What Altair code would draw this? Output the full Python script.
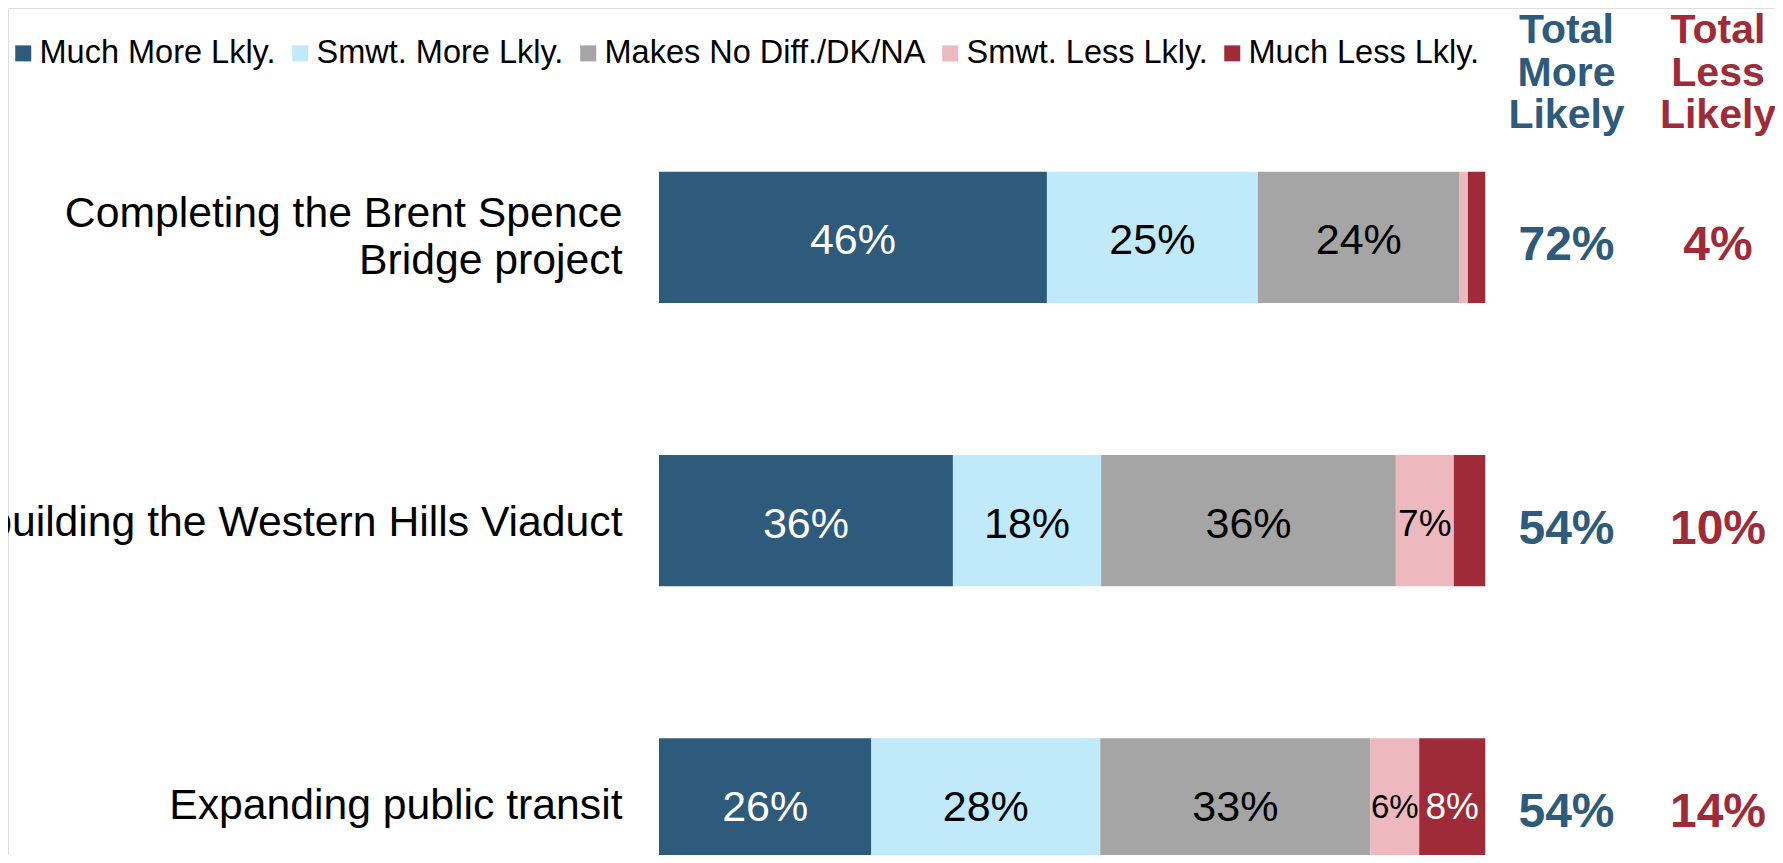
import altair as alt
import pandas as pd

# ---------------- data ----------------
categories = [
    "Completing the Brent Spence\nBridge project",
    "Rebuilding the Western Hills Viaduct",
    "Expanding public transit",
]
responses = [
    "Much More Lkly.",
    "Smwt. More Lkly.",
    "Makes No Diff./DK/NA",
    "Smwt. Less Lkly.",
    "Much Less Lkly.",
]
# segment shares as drawn
much_more = [46.9, 35.5, 25.7]
smwt_more = [25.5, 17.9, 27.7]
no_diff = [24.4, 35.6, 32.7]
smwt_less = [1.0, 7.0, 5.9]
much_less = [2.1, 3.8, 8.0]
# printed labels
much_more_lbl = [46, 36, 26]
smwt_more_lbl = [25, 18, 28]
no_diff_lbl = [24, 36, 33]
smwt_less_lbl = [1, 7, 6]
much_less_lbl = [3, 3, 8]
# totals columns
total_more = [72, 54, 54]
total_less = [4, 10, 14]

colors = ["#2E5A7C", "#C0E9F9", "#A5A5A5", "#EDB9BE", "#A02B38"]
blue_txt = "#2E5A7C"
red_txt = "#A02B38"
FONT = "Liberation Sans"

series = [much_more, smwt_more, no_diff, smwt_less, much_less]
printed = [much_more_lbl, smwt_more_lbl, no_diff_lbl, smwt_less_lbl, much_less_lbl]

rows = []
for i, cat in enumerate(categories):
    for k, (resp, vals, prs) in enumerate(zip(responses, series, printed)):
        rows.append(dict(category=cat, response=resp, value=vals[i],
                         printed=prs[i], order=k))
df = pd.DataFrame(rows)

df_cat = pd.DataFrame(dict(category=categories))
df_tot = pd.DataFrame(dict(category=categories,
                           more=[f"{v}%" for v in total_more],
                           less=[f"{v}%" for v in total_less]))
df_head = pd.DataFrame(dict(more_h=["Total\nMore\nLikely"], less_h=["Total\nLess\nLikely"]))

# ---------------- scales ----------------
W, H = 1767, 847
xscale = alt.Scale(domain=[0, 1], range=[651, 1477.3], nice=False, zero=False)
step = 283.2
c1 = 229.4
yscale = alt.Scale(domain=categories, range=[c1 - step / 2, c1 - step / 2 + 3 * step],
                   paddingInner=0.537, paddingOuter=0.2685)
Y = alt.Y("category:N", scale=yscale, axis=None, sort=categories)

base = alt.Chart(df).transform_stack(
    stack="value", groupby=["category"], as_=["v0", "v1"],
    offset="normalize", sort=[alt.SortField("order", order="ascending")]
).transform_calculate(
    mid="(datum.v0 + datum.v1) / 2",
    lbl="datum.printed + '%'",
    fs="datum.printed < 7 ? 33 : (datum.printed < 10 ? 37 : 43)",
)

bars = base.mark_bar(clip=True).encode(
    x=alt.X("v0:Q", scale=xscale, axis=None),
    x2="v1:Q",
    y=Y,
    color=alt.Color(
        "response:N",
        scale=alt.Scale(domain=responses, range=colors),
        legend=alt.Legend(
            orient="none", legendX=-1, legendY=29, direction="horizontal",
            title=None, symbolType="square", symbolSize=256, symbolStrokeWidth=0,
            symbolOpacity=1, labelFont=FONT, labelFontSize=32.5, labelColor="black",
            labelOffset=0, columnPadding=8, padding=0, labelLimit=1000,
        ),
    ),
    order=alt.Order("order:Q"),
)

seg_text = base.transform_filter("datum.printed >= 5").mark_text(
    clip=True, font=FONT, align="center", baseline="middle", dy=4
).encode(
    x=alt.X("mid:Q", scale=xscale, axis=None),
    y=Y,
    text="lbl:N",
    color=alt.condition(
        "datum.response == 'Much More Lkly.' || datum.response == 'Much Less Lkly.'",
        alt.value("white"), alt.value("black")),
    size=alt.Size("fs:Q", scale=None),
)

cat_multi = alt.Chart(df_cat).transform_filter(
    "indexof(datum.category, '\\n') >= 0"
).mark_text(
    font=FONT, fontSize=42.7, align="right", baseline="middle",
    lineBreak="\n", lineHeight=47, color="black", clip=True, dy=-23
).encode(x=alt.value(614.5), y=Y, text="category:N")

cat_single = alt.Chart(df_cat).transform_filter(
    "indexof(datum.category, '\\n') < 0"
).mark_text(
    font=FONT, fontSize=42.7, align="right", baseline="middle",
    color="black", clip=True, dy=2
).encode(x=alt.value(614.5), y=Y, text="category:N")

more_text = alt.Chart(df_tot).mark_text(
    font=FONT, fontSize=48, fontWeight="bold", align="center", baseline="middle",
    color=blue_txt, yOffset=9
).encode(x=alt.value(1558.5), y=Y, text="more:N")

less_text = alt.Chart(df_tot).mark_text(
    font=FONT, fontSize=48, fontWeight="bold", align="center", baseline="middle",
    color=red_txt, yOffset=9
).encode(x=alt.value(1710), y=Y, text="less:N")

head_more = alt.Chart(df_head).mark_text(
    font=FONT, fontSize=41, fontWeight="bold", align="center", baseline="alphabetic",
    lineBreak="\n", lineHeight=42.5, color=blue_txt
).encode(x=alt.value(1558.5), y=alt.value(35), text="more_h:N")

head_less = alt.Chart(df_head).mark_text(
    font=FONT, fontSize=41, fontWeight="bold", align="center", baseline="alphabetic",
    lineBreak="\n", lineHeight=42.5, color=red_txt
).encode(x=alt.value(1710), y=alt.value(35), text="less_h:N")

chart = alt.layer(
    bars, seg_text, cat_multi, cat_single, more_text, less_text, head_more, head_less
).properties(
    width=W, height=H, padding=0, autosize=alt.AutoSizeParams(type="none")
).configure_view(stroke=None).configure(background="white")

chart.save("out.html", embed_options={"renderer": "svg", "actions": False})
